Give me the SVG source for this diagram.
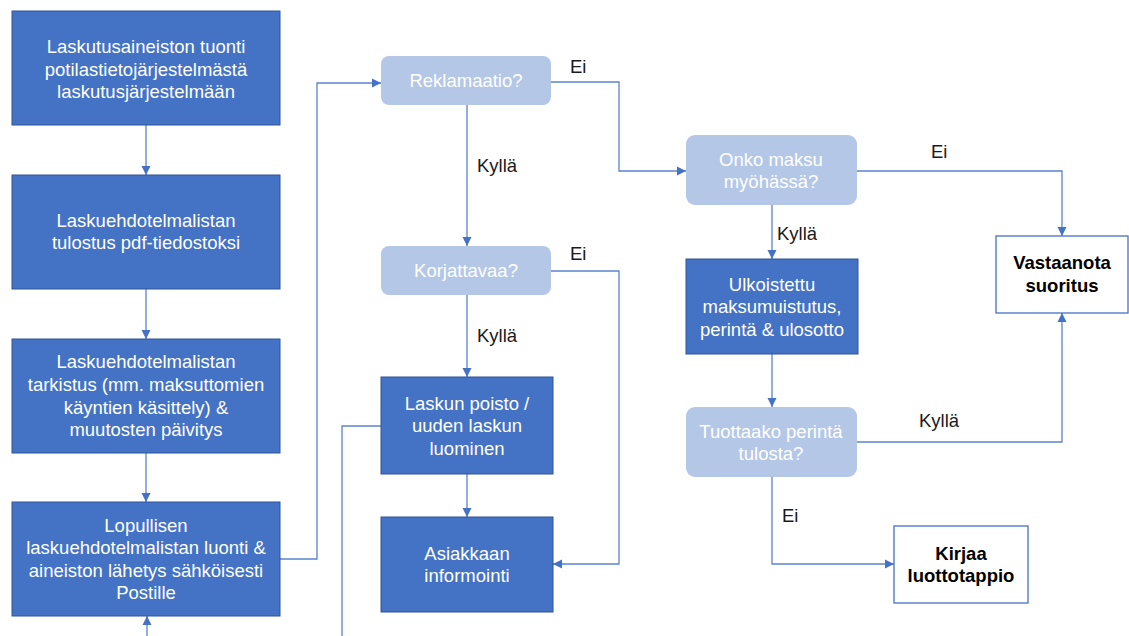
<svg xmlns="http://www.w3.org/2000/svg" width="1129" height="636" viewBox="0 0 1129 636">
<style>
.dark{fill:#4472c4;stroke:#2f5597;stroke-width:1}
.light{fill:#b4c7e7;stroke:none}
.white{fill:#ffffff;stroke:#4472c4;stroke-width:1.3}
.t{font-family:"Liberation Sans",Arial,sans-serif;font-size:18.5px;text-anchor:middle;fill:#ffffff}
.tb{font-family:"Liberation Sans",Arial,sans-serif;font-size:18.5px;text-anchor:middle;fill:#000000;font-weight:bold}
.lbl{font-family:"Liberation Sans",Arial,sans-serif;font-size:18.5px;fill:#1a1a1a}
.c{fill:none;stroke:#5b82cf;stroke-width:1.3}
</style>
<defs>
<marker id="ah" markerUnits="userSpaceOnUse" markerWidth="10" markerHeight="10" viewBox="0 0 10 10" refX="9" refY="5" orient="auto">
<path d="M0,0.5 L9,5 L0,9.5 z" fill="#4472c4"/>
</marker>
</defs>
<rect width="1129" height="636" fill="#ffffff"/>
<g id="connectors">
<path class="c" d="M146,125 V175" marker-end="url(#ah)"/>
<path class="c" d="M146,289 V339" marker-end="url(#ah)"/>
<path class="c" d="M146,453 V502" marker-end="url(#ah)"/>
<path class="c" d="M147,636 V616" marker-end="url(#ah)"/>
<path class="c" d="M280,559 H317 V83 H381" marker-end="url(#ah)"/>
<path class="c" d="M551,82 H619 V171 H686" marker-end="url(#ah)"/>
<path class="c" d="M467,105 V246" marker-end="url(#ah)"/>
<path class="c" d="M551,271 H619 V564 H553" marker-end="url(#ah)"/>
<path class="c" d="M467,295 V377" marker-end="url(#ah)"/>
<path class="c" d="M467,474 V517" marker-end="url(#ah)"/>
<path class="c" d="M381,426 H342 V636"/>
<path class="c" d="M857,171 H1062 V236" marker-end="url(#ah)"/>
<path class="c" d="M772,205 V259" marker-end="url(#ah)"/>
<path class="c" d="M772,354 V407" marker-end="url(#ah)"/>
<path class="c" d="M857,442 H1062 V313" marker-end="url(#ah)"/>
<path class="c" d="M772,477 V564 H894" marker-end="url(#ah)"/>
<text class="lbl" x="570" y="73">Ei</text>
<text class="lbl" x="477" y="172">Kyllä</text>
<text class="lbl" x="570" y="260">Ei</text>
<text class="lbl" x="477" y="342">Kyllä</text>
<text class="lbl" x="931" y="158">Ei</text>
<text class="lbl" x="777" y="240">Kyllä</text>
<text class="lbl" x="919" y="427">Kyllä</text>
<text class="lbl" x="782" y="522">Ei</text>
</g>
<g id="n1"><rect class="dark" x="12" y="11" width="268" height="114"/>
<text class="t"><tspan x="146" y="53">Laskutusaineiston tuonti</tspan><tspan x="146" y="76">potilastietojärjestelmästä</tspan><tspan x="146" y="98">laskutusjärjestelmään</tspan></text></g>
<g id="n2"><rect class="dark" x="12" y="175" width="268" height="114"/>
<text class="t"><tspan x="146" y="227">Laskuehdotelmalistan</tspan><tspan x="146" y="249">tulostus pdf-tiedostoksi</tspan></text></g>
<g id="n3"><rect class="dark" x="12" y="339" width="268" height="114"/>
<text class="t"><tspan x="146" y="368">Laskuehdotelmalistan</tspan><tspan x="146" y="391">tarkistus (mm. maksuttomien</tspan><tspan x="146" y="414">käyntien käsittely) &amp;</tspan><tspan x="146" y="436">muutosten päivitys</tspan></text></g>
<g id="n4"><rect class="dark" x="12" y="502" width="268" height="114"/>
<text class="t"><tspan x="146" y="532">Lopullisen</tspan><tspan x="146" y="554">laskuehdotelmalistan luonti &amp;</tspan><tspan x="146" y="577">aineiston lähetys sähköisesti</tspan><tspan x="146" y="599">Postille</tspan></text></g>
<g id="n5"><rect class="light" x="381" y="56" width="170" height="49" rx="8"/>
<text class="t" x="466" y="87">Reklamaatio?</text></g>
<g id="n6"><rect class="light" x="381" y="246" width="170" height="49" rx="8"/>
<text class="t" x="466" y="277">Korjattavaa?</text></g>
<g id="n7"><rect class="dark" x="381" y="377" width="172" height="97"/>
<text class="t"><tspan x="467" y="410">Laskun poisto /</tspan><tspan x="467" y="432">uuden laskun</tspan><tspan x="467" y="455">luominen</tspan></text></g>
<g id="n8"><rect class="dark" x="381" y="517" width="172" height="95"/>
<text class="t"><tspan x="467" y="560">Asiakkaan</tspan><tspan x="467" y="582">informointi</tspan></text></g>
<g id="n9"><rect class="light" x="686" y="135" width="171" height="70" rx="9"/>
<text class="t"><tspan x="771" y="166">Onko maksu</tspan><tspan x="771" y="188">myöhässä?</tspan></text></g>
<g id="n10"><rect class="dark" x="686" y="259" width="172" height="95"/>
<text class="t"><tspan x="772" y="291">Ulkoistettu</tspan><tspan x="772" y="313">maksumuistutus,</tspan><tspan x="772" y="336">perintä &amp; ulosotto</tspan></text></g>
<g id="n11"><rect class="light" x="686" y="407" width="171" height="70" rx="9"/>
<text class="t"><tspan x="771" y="438">Tuottaako perintä</tspan><tspan x="771" y="460">tulosta?</tspan></text></g>
<g id="n12"><rect class="white" x="996" y="236" width="132" height="77"/>
<text class="tb"><tspan x="1062" y="269">Vastaanota</tspan><tspan x="1062" y="292">suoritus</tspan></text></g>
<g id="n13"><rect class="white" x="894" y="526" width="134" height="77"/>
<text class="tb"><tspan x="961" y="560">Kirjaa</tspan><tspan x="961" y="582">luottotappio</tspan></text></g>
</svg>
